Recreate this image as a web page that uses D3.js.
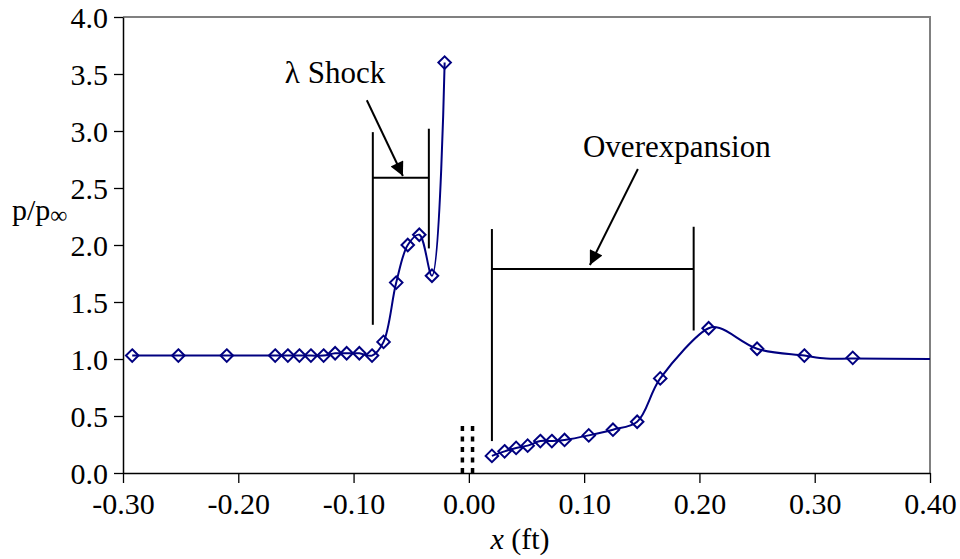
<!DOCTYPE html>
<html>
<head>
<meta charset="utf-8">
<script src="https://cdn.jsdelivr.net/npm/d3@7"></script>
</head>
<body style="margin:0">
<svg id="chart" width="960" height="559" style="font-family: 'Liberation Serif'"></svg>
<script>
// experimental points (diamonds)
const markerX = [-0.292, -0.252, -0.210, -0.168, -0.157, -0.147, -0.137, -0.126, -0.116, -0.106, -0.095, -0.084, -0.074, -0.063, -0.053, -0.043, -0.032, -0.021,
  0.020, 0.031, 0.041, 0.051, 0.062, 0.072, 0.083, 0.104, 0.125, 0.146, 0.166, 0.208, 0.250, 0.291, 0.333];
const markerY = [1.03, 1.03, 1.03, 1.03, 1.03, 1.03, 1.03, 1.03, 1.05, 1.05, 1.05, 1.03, 1.15, 1.67, 2.00, 2.09, 1.73, 3.60,
  0.15, 0.19, 0.22, 0.24, 0.28, 0.28, 0.29, 0.33, 0.38, 0.45, 0.83, 1.27, 1.09, 1.03, 1.01];

// smoothed curves
const leftLineX = [-0.292, -0.252, -0.210, -0.168, -0.157, -0.147, -0.137, -0.126, -0.116, -0.106, -0.095, -0.084, -0.074, -0.063, -0.053, -0.043, -0.032, -0.021];
const leftLineY = [1.03, 1.03, 1.03, 1.03, 1.03, 1.03, 1.03, 1.03, 1.05, 1.05, 1.05, 1.03, 1.15, 1.67, 2.00, 2.09, 1.73, 3.60];
const rightLineX = [0.020, 0.031, 0.041, 0.051, 0.062, 0.072, 0.083, 0.104, 0.125, 0.146, 0.166, 0.208, 0.218, 0.250, 0.291, 0.310, 0.333, 0.400];
const rightLineY = [0.15, 0.19, 0.22, 0.24, 0.28, 0.28, 0.29, 0.33, 0.38, 0.45, 0.83, 1.27, 1.27, 1.09, 1.03, 1.005, 1.004, 1.00];

const xTicks = [-0.30, -0.20, -0.10, 0.00, 0.10, 0.20, 0.30, 0.40];
const yTicks = [0, 0.5, 1.0, 1.5, 2.0, 2.5, 3.0, 3.5, 4.0];

const svg = d3.select('#chart');
const plotLeft = 123, plotRight = 930, plotTop = 17, plotBottom = 473;

const x = d3.scaleLinear().domain([-0.3, 0.4]).range([plotLeft, plotRight]);
const y = d3.scaleLinear().domain([0, 4]).range([plotBottom, plotTop]);

// plot area border (top/right, gray)
svg.append('path')
  .attr('d', `M${plotLeft},${plotTop}H${plotRight}V${plotBottom}`)
  .attr('fill', 'none')
  .attr('stroke', '#808080')
  .attr('stroke-width', 2);

// axes (plain hyphen for negatives, like the source)
const fmtX = d => d3.format('.2f')(d).replace('−', '-');
const xAxis = svg.append('g')
  .attr('transform', `translate(0,${plotBottom})`)
  .call(d3.axisBottom(x).tickValues(xTicks).tickFormat(fmtX).tickSize(10).tickSizeOuter(0).tickPadding(8));
const yAxis = svg.append('g')
  .attr('transform', `translate(${plotLeft},0)`)
  .call(d3.axisLeft(y).tickValues(yTicks).tickFormat(d3.format('.1f')).tickSize(9).tickSizeOuter(0).tickPadding(6));

[xAxis, yAxis].forEach(a => {
  a.attr('font-family', null).attr('font-size', null);
  a.select('.domain').attr('stroke', '#000').attr('stroke-width', 1.5);
  a.selectAll('.tick line').attr('stroke', '#000').attr('stroke-width', 1.3);
  a.selectAll('.tick text')
    .attr('fill', '#000')
    .style('font-family', '"Liberation Serif"')
    .style('font-size', '30px');
});
xAxis.selectAll('.tick text').attr('dy', '0.75em');
yAxis.selectAll('.tick text').attr('dy', '0.34em');

// axis titles
const xt = svg.append('text')
  .attr('x', 520)
  .attr('y', 549)
  .attr('text-anchor', 'middle')
  .style('font-family', '"Liberation Serif"')
  .style('font-size', '30px');
xt.append('tspan').style('font-style', 'italic').text('x');
xt.append('tspan').text(' (ft)');

const yt = svg.append('text')
  .attr('x', 12)
  .attr('y', 220)
  .style('font-family', '"Liberation Serif"')
  .style('font-size', '30px');
yt.append('tspan').text('p/p');
yt.append('tspan').attr('dy', 3).style('font-size', '24px').text('∞');

// dotted nozzle edge marks near x = 0
const nozzleX = [-0.0056, 0.0032];
svg.selectAll('.nozzle')
  .data(nozzleX)
  .enter()
  .append('line')
  .attr('class', 'nozzle')
  .attr('x1', d => x(d))
  .attr('x2', d => x(d))
  .attr('y1', y(0))
  .attr('y2', y(0.46))
  .attr('stroke', '#000')
  .attr('stroke-width', 3.5)
  .attr('stroke-dasharray', '5,5.5');

// arrow head marker
svg.append('defs').append('marker')
  .attr('id', 'head')
  .attr('viewBox', '0 0 10 10')
  .attr('refX', 10)
  .attr('refY', 5)
  .attr('markerWidth', 18)
  .attr('markerHeight', 14)
  .attr('markerUnits', 'userSpaceOnUse')
  .attr('orient', 'auto')
  .append('path')
  .attr('d', 'M0,0L10,5L0,10Z')
  .attr('fill', '#000');

// region brackets: [x1, y1, x2, y2]
const lambdaBracket = [
  [-0.0833, 1.30, -0.0833, 2.99],
  [-0.0347, 1.97, -0.0347, 3.02],
  [-0.0833, 2.59, -0.0347, 2.59]
];
const overBracket = [
  [0.020, 0.28, 0.020, 2.14],
  [0.195, 1.25, 0.195, 2.16],
  [0.020, 1.79, 0.195, 1.79]
];
svg.selectAll('.bracket')
  .data(lambdaBracket.concat(overBracket))
  .enter()
  .append('line')
  .attr('class', 'bracket')
  .attr('x1', d => x(d[0]))
  .attr('y1', d => y(d[1]))
  .attr('x2', d => x(d[2]))
  .attr('y2', d => y(d[3]))
  .attr('stroke', '#000')
  .attr('stroke-width', 2);

// arrows: [x1, y1, x2, y2]
const arrows = [
  [-0.0885, 3.27, -0.0572, 2.605],
  [0.1466, 2.667, 0.105, 1.825]
];
svg.selectAll('.arrow')
  .data(arrows)
  .enter()
  .append('line')
  .attr('class', 'arrow')
  .attr('x1', d => x(d[0]))
  .attr('y1', d => y(d[1]))
  .attr('x2', d => x(d[2]))
  .attr('y2', d => y(d[3]))
  .attr('stroke', '#000')
  .attr('stroke-width', 2)
  .attr('marker-end', 'url(#head)');

// labels
const notes = [
  { text: 'λ Shock', x: -0.1596, y: 3.42 },
  { text: 'Overexpansion', x: 0.099, y: 2.77 }
];
svg.selectAll('.note')
  .data(notes)
  .enter()
  .append('text')
  .attr('class', 'note')
  .attr('x', d => x(d.x))
  .attr('y', d => y(d.y))
  .style('font-family', '"Liberation Serif"')
  .style('font-size', '31px')
  .text(d => d.text);

// curves
const line = d3.line()
  .x(d => x(d[0]))
  .y(d => y(d[1]))
  .curve(d3.curveCatmullRom.alpha(0.5));

[[leftLineX, leftLineY], [rightLineX, rightLineY]].forEach(([xs, ys]) => {
  svg.append('path')
    .datum(xs.map((v, i) => [v, ys[i]]))
    .attr('fill', 'none')
    .attr('stroke', '#000080')
    .attr('stroke-width', 2)
    .attr('d', line);
});

// diamonds
const diamond = d3.symbol().type(d3.symbolDiamond2).size(100);
svg.selectAll('.pt')
  .data(markerX.map((v, i) => [v, markerY[i]]))
  .enter()
  .append('path')
  .attr('class', 'pt')
  .attr('transform', d => `translate(${x(d[0])},${y(d[1])})`)
  .attr('d', diamond)
  .attr('fill', 'none')
  .attr('stroke', '#000080')
  .attr('stroke-width', 2);
</script>
</body>
</html>
